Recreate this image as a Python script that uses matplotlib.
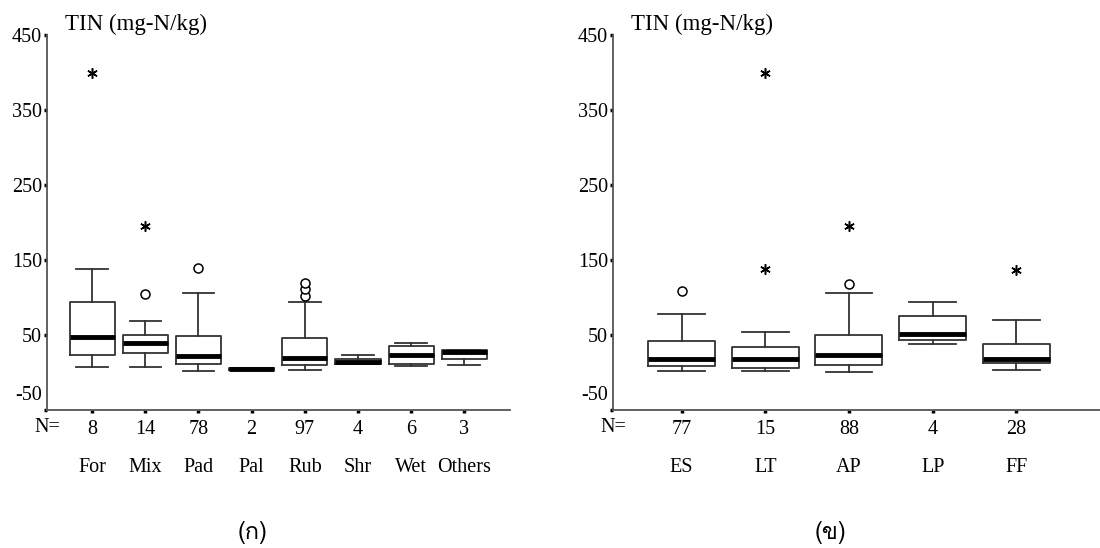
import numpy as np
import matplotlib
matplotlib.use("Agg")
import matplotlib.pyplot as plt
import matplotlib.transforms as mtransforms
from matplotlib import font_manager
from matplotlib.ft2font import FT2Font

# ---- data ----
left_cats = ["For", "Mix", "Pad", "Pal", "Rub", "Shr", "Wet", "Others"]
left_n = [8, 14, 78, 2, 97, 4, 6, 3]
left_whislo = [7, 7, 2, 3.5, 3, 11.8, 8.7, 10]
left_q1 = [24, 25.6, 12, 3.5, 10, 11.8, 11.8, 18.4]
left_med = [47, 39, 22, 4.5, 19, 14, 24, 27.3]
left_q3 = [94, 49.6, 49, 5.5, 46.5, 18.4, 35.8, 29.6]
left_whishi = [137.6, 68.7, 106, 5.5, 94, 23.8, 39.3, 29.6]
left_circ_x = [2, 3, 5, 5, 5]
left_circ_y = [105, 140, 102, 111, 119]
left_star_x = [1, 2]
left_star_y = [400, 195]

right_cats = ["ES", "LT", "AP", "LP", "FF"]
right_n = [77, 15, 88, 4, 28]
right_whislo = [2, 2, 0.6, 38.5, 4]
right_q1 = [8.7, 6, 10.4, 43.8, 12.7]
right_med = [18, 18, 23, 52, 18]
right_q3 = [42, 34.4, 50.4, 76, 38]
right_whishi = [78.4, 54, 106, 93.6, 69.6]
right_circ_x = [1, 3]
right_circ_y = [109, 117.6]
right_star_x = [2, 2, 3, 5]
right_star_y = [400, 138, 195, 137]

yticks = [-50, 50, 150, 250, 350, 450]
ylabel = "TIN (mg-N/kg)"
captions = ["(ก)", "(ข)"]

# font with Thai glyphs, if any
thai_family = "DejaVu Sans"
for f in font_manager.fontManager.ttflist:
    try:
        if FT2Font(f.fname).get_char_index(0x0E01):
            thai_family = f.name
            break
    except Exception:
        pass

plt.rcParams["font.family"] = ["Liberation Serif", "DejaVu Serif"]
FS = 14.5
box_col = "#333333"
ax_col = "#555555"

fig = plt.figure(figsize=(11, 5.48), dpi=100)
ax1 = fig.add_axes([47 / 1100, 1 - 410 / 548, (510 - 47) / 1100, 375 / 548])
ax2 = fig.add_axes([613 / 1100, 1 - 410 / 548, (1100 - 613) / 1100, 375 / 548])


def draw(ax, cats, n, wlo, q1, med, q3, whi, cx, cy, sx, sy, width, xlim):
    stats = []
    for i in range(len(cats)):
        stats.append(dict(whislo=wlo[i], q1=q1[i], med=med[i], q3=q3[i],
                          whishi=whi[i], fliers=[], label=cats[i]))
    pos = np.arange(1, len(cats) + 1)
    ax.bxp(stats, positions=pos, widths=width, capwidths=width * 0.7,
           showfliers=False, patch_artist=False,
           boxprops=dict(color=box_col, linewidth=1.3),
           whiskerprops=dict(color=box_col, linewidth=1.3),
           capprops=dict(color=box_col, linewidth=1.3),
           medianprops=dict(color="black", linewidth=3.5, solid_capstyle="butt"))
    ax.plot(cx, cy, linestyle="none", marker="o", markersize=6.5,
            markerfacecolor="white", markeredgecolor="black", markeredgewidth=1.1)
    ax.plot(sx, sy, linestyle="none", marker=(6, 2, 0), markersize=7.5,
            color="black", markeredgewidth=1.1)

    ax.set_xlim(*xlim)
    ax.set_ylim(-50, 450)
    ax.set_yticks(yticks)
    ax.set_yticklabels([str(v) for v in yticks], fontsize=FS)
    ax.set_xticks(pos)
    ax.set_xticklabels([str(v) for v in n], fontsize=FS)
    ax.tick_params(axis="both", direction="out", length=2.5, width=2.5,
                   color="black", pad=1)
    ax.tick_params(axis="x", pad=5)
    for s in ["top", "right"]:
        ax.spines[s].set_visible(False)
    for s in ["left", "bottom"]:
        ax.spines[s].set_color(ax_col)
        ax.spines[s].set_linewidth(1.3)

    # -50 label sits above its tick
    lab = ax.get_yticklabels()[0]
    lab.set_transform(lab.get_transform() +
                      mtransforms.ScaledTranslation(0, 17 / 100, fig.dpi_scale_trans))

    for p, c in zip(pos, cats):
        ax.annotate(c, xy=(p, 0), xycoords=("data", "axes fraction"),
                    xytext=(0, -58), textcoords="offset pixels",
                    ha="center", va="center", fontsize=FS)
    ax.annotate("N=", xy=(0, 0), xycoords="axes fraction",
                xytext=(0, -18), textcoords="offset pixels",
                ha="center", va="center", fontsize=FS)
    ax.annotate(ylabel, xy=(0, 1), xycoords="axes fraction",
                xytext=(18, 11), textcoords="offset pixels",
                ha="left", va="center", fontsize=16.5)


draw(ax1, left_cats, left_n, left_whislo, left_q1, left_med, left_q3, left_whishi,
     left_circ_x, left_circ_y, left_star_x, left_star_y, 0.85, (0.15, 8.86))
draw(ax2, right_cats, right_n, right_whislo, right_q1, right_med, right_q3,
     right_whishi, right_circ_x, right_circ_y, right_star_x, right_star_y, 0.8,
     (0.18, 6.0))

fig.text(253 / 1100, 1 - 533 / 548, captions[0], ha="center", va="center",
         fontsize=17, family=[thai_family, "DejaVu Sans"])
fig.text(830 / 1100, 1 - 533 / 548, captions[1], ha="center", va="center",
         fontsize=17, family=[thai_family, "DejaVu Sans"])

fig.savefig("out.png", dpi=100)
